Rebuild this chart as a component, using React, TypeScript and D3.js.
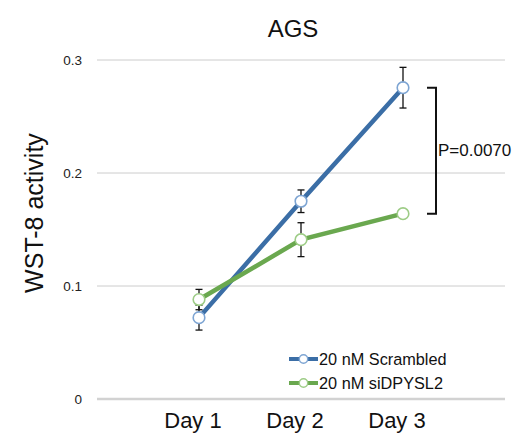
import React from "react";
import * as d3 from "d3";

const days = ["Day 1", "Day 2", "Day 3"];
const scrambled = [0.072, 0.175, 0.2755];
const scrambledErr = [0.011, 0.010, 0.018];
const sidpysl2 = [0.088, 0.141, 0.164];
const sidpysl2Err = [0.009, 0.015, 0.0];
const yTicks = [0, 0.1, 0.2, 0.3];
const seriesNames = ["20 nM Scrambled", "20 nM siDPYSL2"];
const pLabel = "P=0.0070";

const W = 523;
const H = 444;
const FONT = "'Liberation Sans', Arial, Helvetica, sans-serif";

export default function App() {
  const x = d3.scaleLinear().domain([0, 4]).range([97, 505]);
  const y = d3.scaleLinear().domain([0, 0.3]).range([399, 60]);

  const series = [
    { name: seriesNames[0], values: scrambled, err: scrambledErr, color: "#3b6ea6", marker: "#7ea5d3" },
    { name: seriesNames[1], values: sidpysl2, err: sidpysl2Err, color: "#6aa84f", marker: "#9dcc86" },
  ];

  const line = d3
    .line<number>()
    .x((_, i) => x(i + 1))
    .y((d) => y(d));

  const bx = x(3) + 33;
  const bTop = y(scrambled[2]);
  const bBot = y(sidpysl2[2]);

  return (
    <svg width={W} height={H} style={{ position: "absolute", left: 0, top: 0, background: "#fff" }} fontFamily={FONT}>
      <rect x={0} y={0} width={W} height={H} fill="#fff" />
      <text x={293} y={37} textAnchor="middle" fontSize={24} fill="#111">AGS</text>

      {yTicks.map((t) => (
        <g key={t}>
          <line
            x1={x(0)}
            x2={x(4)}
            y1={y(t)}
            y2={y(t)}
            stroke={t === 0 ? "#d2d2d2" : "#cccccc"}
            strokeWidth={t === 0 ? 2.5 : 1}
          />
          <text x={82} y={y(t)} dy="0.36em" textAnchor="end" fontSize={13.5} fill="#222">
            {t === 0 ? "0" : String(t)}
          </text>
        </g>
      ))}

      <text
        transform={`translate(43,${213}) rotate(-90)`}
        textAnchor="middle"
        fontSize={25}
        fill="#111"
      >
        WST-8 activity
      </text>

      {days.map((d, i) => (
        <text key={d} x={x(i + 1) - 6} y={428} textAnchor="middle" fontSize={22} fill="#111">
          {d}
        </text>
      ))}

      {series.map((s) => (
        <path key={s.name + "l"} d={line(s.values) || ""} fill="none" stroke={s.color} strokeWidth={4.5} />
      ))}

      {series.map((s) =>
        s.values.map((v, i) =>
          s.err[i] > 0 ? (
            <g key={s.name + "e" + i} stroke="#111" strokeWidth={1.3}>
              <line x1={x(i + 1)} x2={x(i + 1)} y1={y(v + s.err[i])} y2={y(v - s.err[i])} />
              <line x1={x(i + 1) - 3.5} x2={x(i + 1) + 3.5} y1={y(v + s.err[i])} y2={y(v + s.err[i])} />
              <line x1={x(i + 1) - 3.5} x2={x(i + 1) + 3.5} y1={y(v - s.err[i])} y2={y(v - s.err[i])} />
            </g>
          ) : null
        )
      )}

      {series.map((s) =>
        s.values.map((v, i) => (
          <circle key={s.name + "m" + i} cx={x(i + 1)} cy={y(v)} r={5.8} fill="#fff" stroke={s.marker} strokeWidth={1.6} />
        ))
      )}

      <path
        d={`M${bx - 9},${bTop} H${bx} V${bBot} H${bx - 9}`}
        fill="none"
        stroke="#111"
        strokeWidth={2}
      />
      <text x={bx + 2} y={156} fontSize={17} fill="#111">{pLabel}</text>

      {series.map((s, i) => {
        const ly = 359 + i * 24;
        return (
          <g key={s.name + "leg"}>
            <line x1={289} x2={318} y1={ly} y2={ly} stroke={s.color} strokeWidth={4} />
            <circle cx={303.5} cy={ly} r={4.2} fill="#fff" stroke={s.marker} strokeWidth={1.4} />
            <text x={319} y={ly + 6} fontSize={16.3} fill="#111">{s.name}</text>
          </g>
        );
      })}
    </svg>
  );
}
